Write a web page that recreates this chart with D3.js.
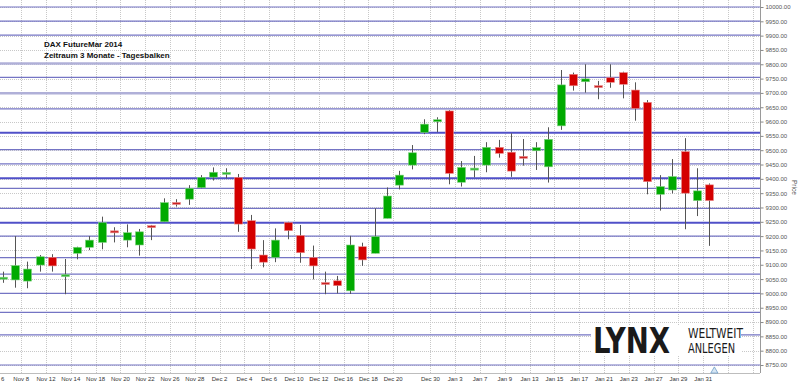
<!DOCTYPE html>
<html>
<head>
<meta charset="utf-8">
<script src="https://cdn.jsdelivr.net/npm/d3@7"></script>
<style>
  body { margin: 0; background: #fff; }
  svg { display: block; }
</style>
</head>
<body>
<svg width="800" height="384"></svg>
<script>
// Trading days shown on the chart (daily candles)
const dates = [
  "Nov 6", "Nov 7", "Nov 8", "Nov 11", "Nov 12", "Nov 13", "Nov 14", "Nov 15", "Nov 18", "Nov 19",
  "Nov 20", "Nov 21", "Nov 22", "Nov 25", "Nov 26", "Nov 27", "Nov 28", "Nov 29", "Dec 2", "Dec 3",
  "Dec 4", "Dec 5", "Dec 6", "Dec 9", "Dec 10", "Dec 11", "Dec 12", "Dec 13", "Dec 16", "Dec 17",
  "Dec 18", "Dec 19", "Dec 20", "Dec 23", "Dec 27", "Dec 30", "Jan 2", "Jan 3", "Jan 6", "Jan 7",
  "Jan 8", "Jan 9", "Jan 10", "Jan 13", "Jan 14", "Jan 15", "Jan 16", "Jan 17", "Jan 20", "Jan 21",
  "Jan 22", "Jan 23", "Jan 24", "Jan 27", "Jan 28", "Jan 29", "Jan 30", "Jan 31"
];
const open = [
  9052, 9047, 9043, 9099, 9126, 9061, 9140, 9161, 9178, 9216,
  9186, 9169, 9234, 9250, 9315, 9329, 9369, 9406, 9418, 9405,
  9254, 9134, 9126, 9247, 9202, 9125, 9036, 9044, 9009, 9163,
  9140, 9262, 9378, 9448, 9562, 9601, 9637, 9388, 9433, 9448,
  9510, 9493, 9476, 9498, 9442, 9585, 9765, 9739, 9723, 9753,
  9771, 9710, 9667, 9346, 9361, 9495, 9324, 9379
];
const high = [
  9076, 9200, 9111, 9134, 9137, 9120, 9163, 9200, 9268, 9231,
  9241, 9225, 9239, 9332, 9329, 9378, 9413, 9440, 9437, 9417,
  9274, 9186, 9227, 9250, 9239, 9167, 9076, 9061, 9201, 9177,
  9297, 9370, 9428, 9518, 9608, 9615, 9640, 9462, 9480, 9528,
  9536, 9559, 9539, 9528, 9580, 9780, 9771, 9800, 9742, 9800,
  9774, 9737, 9675, 9413, 9469, 9542, 9437, 9384
];
const low = [
  9037, 9020, 9018, 9076, 9076, 8997, 9119, 9151, 9154, 9178,
  9161, 9132, 9186, 9250, 9303, 9309, 9367, 9394, 9402, 9215,
  9085, 9091, 9109, 9189, 9107, 9049, 8997, 9000, 8998, 9096,
  9140, 9262, 9363, 9433, 9556, 9563, 9381, 9373, 9405, 9423,
  9474, 9407, 9446, 9431, 9387, 9571, 9708, 9701, 9678, 9718,
  9681, 9603, 9346, 9289, 9349, 9224, 9270, 9166
];
const close = [
  9054, 9097, 9085, 9128, 9096, 9063, 9161, 9186, 9247, 9214,
  9212, 9215, 9232, 9317, 9313, 9367, 9405, 9423, 9420, 9242,
  9155, 9109, 9186, 9219, 9142, 9096, 9033, 9027, 9169, 9117,
  9198, 9340, 9413, 9491, 9591, 9605, 9419, 9440, 9435, 9510,
  9489, 9427, 9474, 9509, 9538, 9728, 9725, 9749, 9721, 9737,
  9730, 9646, 9390, 9373, 9408, 9350, 9358, 9324
];

// Date labels on the x axis (every second trading day)
const tickDates = [
  "Nov 6", "Nov 8", "Nov 12", "Nov 14", "Nov 18", "Nov 20", "Nov 22", "Nov 26", "Nov 28", "Dec 2",
  "Dec 4", "Dec 6", "Dec 10", "Dec 12", "Dec 16", "Dec 18", "Dec 20", "Dec 30", "Jan 3", "Jan 7",
  "Jan 9", "Jan 13", "Jan 15", "Jan 17", "Jan 21", "Jan 23", "Jan 27", "Jan 29", "Jan 31"
];

// Drawn support / resistance levels
const levels = [10000, 9951, 9902, 9754, 9644, 9502, 9452, 9367, 9297, 9200, 9125, 9067, 9000, 8934, 8855, 8750];
const strongLevels = [9561, 9402, 9247];
const paleLevels = [9803, 9699];

// Price axis
const priceMin = 8750;
const priceMax = 10000;
const priceStep = 50;

const plot = { left: 0, right: 760, top: 0, bottom: 373 };

const svg = d3.select("svg");

// Index scale: one slot per trading day
const xScale = d3.scaleLinear()
  .domain([-0.21, 61.08])
  .range([plot.left, plot.right]);
const slot = xScale(1) - xScale(0);

const yScale = d3.scaleLinear()
  .domain([priceMin, priceMax])
  .range([365, 7]);

const yTicks = d3.range(priceMin, priceMax + 1, priceStep);
const tickIdx = tickDates.map(d => dates.indexOf(d));
// grid keeps the same rhythm past the last candle
const gridIdx = tickIdx.concat([59, 61]);

// Dotted grid
const grid = svg.append("g")
  .attr("stroke", "#c8c8c8")
  .attr("stroke-width", 1)
  .attr("stroke-dasharray", "1,1");

grid.selectAll("line.h")
  .data(yTicks)
  .join("line")
  .attr("class", "h")
  .attr("x1", plot.left)
  .attr("x2", plot.right)
  .attr("y1", d => Math.round(yScale(d)) + 0.5)
  .attr("y2", d => Math.round(yScale(d)) + 0.5);

grid.selectAll("line.v")
  .data(gridIdx)
  .join("line")
  .attr("class", "v")
  .attr("x1", i => Math.round(xScale(i) - slot / 2) + 0.5)
  .attr("x2", i => Math.round(xScale(i) - slot / 2) + 0.5)
  .attr("y1", plot.top)
  .attr("y2", plot.bottom);

// Horizontal levels
function drawLevels(data, color, w) {
  svg.append("g")
    .selectAll("line")
    .data(data)
    .join("line")
    .attr("x1", plot.left)
    .attr("x2", plot.right)
    .attr("y1", d => yScale(d))
    .attr("y2", d => yScale(d))
    .attr("stroke", color)
    .attr("stroke-width", w);
}
drawLevels(paleLevels, "#b0b0d8", 2.5);
drawLevels(levels, "#7474c4", 1.2);
drawLevels(strongLevels, "#5050c8", 2);

// Logo box covers the lines behind it
svg.append("rect")
  .attr("x", 591)
  .attr("y", 325)
  .attr("width", 150)
  .attr("height", 30)
  .attr("fill", "#fff");

// Candles
const candles = svg.append("g")
  .selectAll("g")
  .data(dates.map((d, i) => ({ i, o: open[i], h: high[i], l: low[i], c: close[i] })))
  .join("g");

const bodyW = 8;
const colorOf = d => {
  if (Math.abs(d.c - d.o) <= 3) return d.c >= d.o ? "#33b833" : "#cc2222";
  return d.c >= d.o ? "#00aa00" : "#d40000";
};

candles.append("line")
  .attr("x1", d => Math.round(xScale(d.i)) + 0.5)
  .attr("x2", d => Math.round(xScale(d.i)) + 0.5)
  .attr("y1", d => yScale(d.h))
  .attr("y2", d => yScale(d.l))
  .attr("stroke", "#555")
  .attr("stroke-width", 1);

candles.append("rect")
  .attr("x", d => Math.round(xScale(d.i)) + 0.5 - bodyW / 2)
  .attr("y", d => {
    const top = yScale(Math.max(d.o, d.c));
    const h = yScale(Math.min(d.o, d.c)) - top;
    return h < 2 ? top - (2 - h) / 2 : top;
  })
  .attr("width", bodyW)
  .attr("height", d => Math.max(2, yScale(Math.min(d.o, d.c)) - yScale(Math.max(d.o, d.c))))
  .attr("fill", colorOf)
  .attr("stroke", d => d.c >= d.o ? "#7fd07f" : "#e88a8a")
  .attr("stroke-width", 0.6);

// Axis frame
svg.append("line")
  .attr("x1", plot.right + 0.5).attr("x2", plot.right + 0.5)
  .attr("y1", plot.top).attr("y2", plot.bottom)
  .attr("stroke", "#9a9a9a");
svg.append("line")
  .attr("x1", plot.left).attr("x2", plot.right)
  .attr("y1", plot.bottom + 0.5).attr("y2", plot.bottom + 0.5)
  .attr("stroke", "#bdbdbd");

// Price axis on the right
const yAxis = svg.append("g")
  .attr("transform", `translate(${plot.right + 0.5},0)`)
  .call(d3.axisRight(yScale)
    .tickValues(yTicks)
    .tickSize(3)
    .tickPadding(2)
    .tickFormat(d3.format(".2f")));
yAxis.select(".domain").remove();
yAxis.selectAll(".tick line").attr("stroke", "#888");
yAxis.selectAll(".tick text")
  .attr("fill", "#555")
  .style("font-family", "'Liberation Sans', Arial, sans-serif")
  .style("font-size", "6px");

svg.append("text")
  .attr("transform", `translate(792,${yScale(9370)}) rotate(90)`)
  .attr("text-anchor", "middle")
  .attr("fill", "#555")
  .style("font-family", "'Liberation Sans', Arial, sans-serif")
  .style("font-size", "6.5px")
  .text("Price");

// Date axis
svg.append("g")
  .selectAll("text")
  .data(tickIdx)
  .join("text")
  .attr("x", i => xScale(i) - slot / 2)
  .attr("y", 381)
  .attr("text-anchor", "middle")
  .attr("fill", "#333")
  .style("font-family", "'Liberation Sans', Arial, sans-serif")
  .style("font-size", "6px")
  .text(i => dates[i]);

// Current-bar marker
svg.append("path")
  .attr("d", d3.symbol(d3.symbolTriangle, 22)())
  .attr("transform", `translate(${xScale(57.4)},${plot.bottom - 2})`)
  .attr("fill", "#d6e6f4")
  .attr("stroke", "#6d9cc8")
  .attr("stroke-width", 0.8);

// Title
const title = svg.append("g")
  .style("font-family", "'Liberation Sans', Arial, sans-serif")
  .style("font-size", "8px")
  .style("font-weight", "bold")
  .attr("fill", "#111");
title.append("text").attr("x", 44).attr("y", 46.5).text("DAX FutureMar 2014");
title.append("text").attr("x", 44).attr("y", 57.5).text("Zeitraum 3 Monate - Tagesbalken");

// LYNX logo
const logoFont = "'Liberation Sans Narrow', 'DejaVu Sans Condensed', 'Liberation Sans', sans-serif";
const logo = svg.append("g").attr("fill", "#1a1a1a").style("font-family", logoFont);
logo.append("text")
  .attr("x", 593).attr("y", 353)
  .attr("textLength", 77).attr("lengthAdjust", "spacingAndGlyphs")
  .style("font-weight", "bold")
  .style("font-size", "36px")
  .text("LYNX");
logo.append("text")
  .attr("x", 688).attr("y", 337.5)
  .attr("textLength", 55).attr("lengthAdjust", "spacingAndGlyphs")
  .style("font-size", "13.5px")
  .text("WELTWEIT");
logo.append("text")
  .attr("x", 688).attr("y", 352.5)
  .attr("textLength", 47).attr("lengthAdjust", "spacingAndGlyphs")
  .style("font-size", "13.5px")
  .text("ANLEGEN");
</script>
</body>
</html>
